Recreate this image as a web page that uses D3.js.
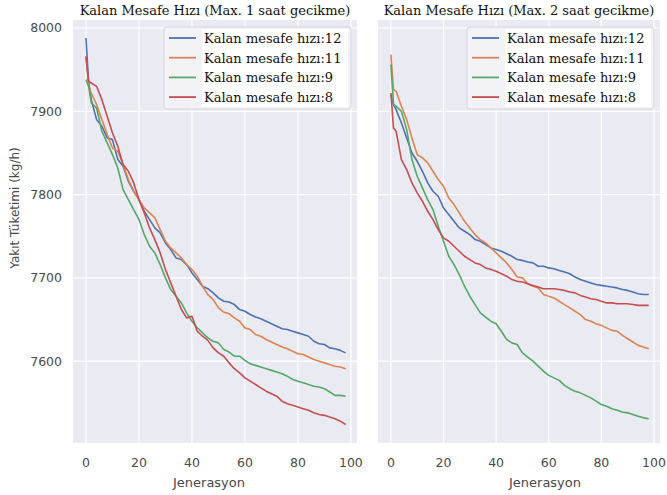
<!DOCTYPE html>
<html>
<head>
<meta charset="utf-8">
<script src="https://cdn.jsdelivr.net/npm/d3@7/dist/d3.min.js"></script>
<style>
  body { margin: 0; background: #fff; }
</style>
</head>
<body>
<div id="chart"></div>
<script>

// x values (generation) shared by every series
var generations = [0, 1, 2, 4, 6, 8, 10, 12, 14, 16, 18, 20, 22, 24, 26, 28, 30, 32, 34, 36, 38, 40,
  42, 44, 46, 48, 50, 52, 54, 56, 58, 60, 62, 64, 66, 68, 70, 72, 74, 76, 78, 80,
  82, 84, 86, 88, 90, 92, 94, 96, 98];

var seriesNames = ['Kalan mesafe hızı:12', 'Kalan mesafe hızı:11', 'Kalan mesafe hızı:9', 'Kalan mesafe hızı:8'];
var panelTitles = ['Kalan Mesafe Hızı (Max. 1 saat gecikme)', 'Kalan Mesafe Hızı (Max. 2 saat gecikme)'];
var xTicks = [0, 20, 40, 60, 80, 100];
var yTicks = [7600, 7700, 7800, 7900, 8000];

// panel 1 : max 1 hour delay
var speed12_1h = [7988, 7935, 7914, 7890, 7882, 7868, 7866, 7842, 7834, 7816, 7804, 7794,
  7780, 7770, 7760, 7754, 7742, 7734, 7724, 7722, 7716, 7706,
  7698, 7690, 7687, 7682, 7676, 7672, 7671, 7668, 7662, 7660,
  7656, 7653, 7651, 7648, 7645, 7642, 7639, 7638, 7636, 7634,
  7632, 7630, 7624, 7621, 7620, 7616, 7615, 7613, 7610];
var speed11_1h = [7966, 7930, 7922, 7908, 7890, 7872, 7856, 7852, 7836, 7818, 7804, 7794,
  7784, 7778, 7772, 7758, 7744, 7736, 7730, 7724, 7716, 7710,
  7702, 7690, 7680, 7674, 7664, 7659, 7657, 7652, 7648, 7640,
  7638, 7632, 7630, 7626, 7623, 7620, 7617, 7615, 7612, 7609,
  7608, 7605, 7602, 7600, 7598, 7596, 7594, 7593, 7591];
var speed9_1h = [7938, 7930, 7910, 7904, 7876, 7862, 7848, 7832, 7806, 7794, 7782, 7770,
  7752, 7738, 7730, 7716, 7700, 7686, 7678, 7670, 7658, 7648,
  7640, 7634, 7628, 7624, 7622, 7614, 7611, 7606, 7606, 7601,
  7597, 7595, 7593, 7591, 7589, 7587, 7585, 7582, 7578, 7576,
  7574, 7572, 7570, 7569, 7567, 7563, 7559, 7559, 7558];
var speed8_1h = [7966, 7936, 7934, 7930, 7914, 7894, 7874, 7858, 7836, 7828, 7814, 7794,
  7778, 7760, 7746, 7730, 7710, 7694, 7678, 7662, 7652, 7654,
  7636, 7630, 7625, 7616, 7610, 7606, 7598, 7591, 7586, 7580,
  7576, 7572, 7568, 7564, 7561, 7558, 7552, 7549, 7547, 7545,
  7543, 7541, 7538, 7536, 7535, 7533, 7531, 7528, 7524];

// panel 2 : max 2 hours delay
var speed12_2h = [7920, 7908, 7902, 7886, 7868, 7850, 7840, 7828, 7814, 7804, 7798, 7784,
  7776, 7768, 7760, 7756, 7752, 7746, 7744, 7740, 7736, 7734,
  7732, 7729, 7726, 7722, 7721, 7719, 7718, 7714, 7714, 7712,
  7711, 7709, 7707, 7705, 7701, 7698, 7696, 7694, 7692, 7691,
  7690, 7689, 7688, 7686, 7685, 7683, 7681, 7680, 7680];
var speed11_2h = [7968, 7926, 7924, 7906, 7890, 7868, 7848, 7844, 7838, 7828, 7818, 7810,
  7796, 7788, 7778, 7768, 7760, 7752, 7746, 7742, 7736, 7730,
  7724, 7718, 7710, 7701, 7700, 7693, 7690, 7688, 7680, 7678,
  7676, 7672, 7668, 7664, 7660, 7656, 7650, 7648, 7645, 7643,
  7640, 7637, 7636, 7631, 7627, 7623, 7619, 7617, 7615];
var speed9_2h = [7956, 7908, 7906, 7900, 7878, 7842, 7822, 7808, 7794, 7782, 7762, 7744,
  7726, 7716, 7704, 7690, 7678, 7668, 7658, 7653, 7648, 7645,
  7636, 7626, 7622, 7620, 7610, 7605, 7600, 7594, 7588, 7583,
  7580, 7577, 7571, 7567, 7564, 7562, 7559, 7556, 7552, 7548,
  7546, 7543, 7541, 7539, 7538, 7536, 7534, 7532, 7531];
var speed8_2h = [7922, 7880, 7876, 7842, 7830, 7814, 7802, 7792, 7780, 7770, 7758, 7748,
  7744, 7738, 7732, 7726, 7722, 7718, 7716, 7712, 7710, 7708,
  7705, 7702, 7698, 7696, 7695, 7693, 7691, 7689, 7687, 7687,
  7687, 7686, 7685, 7683, 7682, 7679, 7677, 7675, 7674, 7672,
  7670, 7670, 7669, 7669, 7669, 7668, 7667, 7667, 7667];

var colors = ['#4c72b0', '#dd8452', '#55a868', '#c44e52'];

var width = 667, height = 495;
var plotTop = 20, plotBottom = 443;

var panels = [
  { left: 73, right: 357, title: panelTitles[0], xLabelX: 209, showY: true,
    data: [speed12_1h, speed11_1h, speed9_1h, speed8_1h] },
  { left: 378, right: 660, title: panelTitles[1], xLabelX: 545, showY: false,
    data: [speed12_2h, speed11_2h, speed9_2h, speed8_2h] }
];

var svg = d3.select('#chart').append('svg')
  .attr('width', width)
  .attr('height', height)
  .style('font-family', 'DejaVu Sans, sans-serif');

var y = d3.scaleLinear()
  .domain([7501.8, 8009.6])
  .range([plotBottom, plotTop]);

panels.forEach(function(p) {
  var x = d3.scaleLinear()
    .domain([-4.9, 102.3])
    .range([p.left, p.right]);

  var g = svg.append('g');

  // background
  g.append('rect')
    .attr('x', p.left)
    .attr('y', plotTop)
    .attr('width', p.right - p.left)
    .attr('height', plotBottom - plotTop)
    .style('fill', '#eaeaf2');

  // grid
  g.selectAll('line.hgrid')
    .data(yTicks)
    .enter().append('line')
    .attr('class', 'hgrid')
    .attr('x1', p.left)
    .attr('x2', p.right)
    .attr('y1', function(d) { return y(d); })
    .attr('y2', function(d) { return y(d); })
    .style('stroke', '#fff')
    .style('stroke-width', 1.2);

  g.selectAll('line.vgrid')
    .data(xTicks)
    .enter().append('line')
    .attr('class', 'vgrid')
    .attr('x1', function(d) { return x(d); })
    .attr('x2', function(d) { return x(d); })
    .attr('y1', plotTop)
    .attr('y2', plotBottom)
    .style('stroke', '#fff')
    .style('stroke-width', 1.2);

  // x tick labels
  g.selectAll('text.xtick')
    .data(xTicks)
    .enter().append('text')
    .attr('class', 'xtick')
    .attr('x', function(d) { return x(d); })
    .attr('y', 467)
    .attr('text-anchor', 'middle')
    .text(function(d) { return d; })
    .style('font-size', '12.5px')
    .style('fill', '#4a4a4a');

  if (p.showY) {
    g.selectAll('text.ytick')
      .data(yTicks)
      .enter().append('text')
      .attr('class', 'ytick')
      .attr('x', 62)
      .attr('y', function(d) { return y(d) + 4.5; })
      .attr('text-anchor', 'end')
      .text(function(d) { return d; })
      .style('font-size', '12.5px')
      .style('fill', '#4a4a4a');
  }

  // lines
  var line = d3.line()
    .x(function(d, i) { return x(generations[i]); })
    .y(function(d) { return y(d); });

  g.selectAll('path.series')
    .data(p.data)
    .enter().append('path')
    .attr('class', 'series')
    .attr('d', line)
    .style('fill', 'none')
    .style('stroke', function(d, i) { return colors[i]; })
    .style('stroke-width', 1.6)
    .style('stroke-linejoin', 'round');

  // title
  g.append('text')
    .attr('x', (p.left + p.right) / 2)
    .attr('y', 15)
    .attr('text-anchor', 'middle')
    .text(p.title)
    .style('font-family', 'DejaVu Serif, serif')
    .style('font-size', '13px')
    .style('fill', '#111');

  // x axis label
  g.append('text')
    .attr('x', p.xLabelX)
    .attr('y', 487)
    .attr('text-anchor', 'middle')
    .text('Jenerasyon')
    .style('font-size', '13px')
    .style('fill', '#4a4a4a');

  // legend
  var lx = p.right - 193, ly = 27;
  var legend = g.append('g');
  legend.append('rect')
    .attr('x', lx)
    .attr('y', ly)
    .attr('width', 187)
    .attr('height', 82)
    .attr('rx', 3)
    .style('fill', '#f3f3f7')
    .style('stroke', '#d4d4dc')
    .style('stroke-width', 1);
  legend.append('rect')
    .attr('x', lx + 38)
    .attr('y', ly + 2)
    .attr('width', 146)
    .attr('height', 78)
    .style('fill', '#fff');

  var entries = legend.selectAll('g.entry')
    .data(seriesNames)
    .enter().append('g')
    .attr('class', 'entry')
    .attr('transform', function(d, i) { return 'translate(' + lx + ',' + (ly + 11 + i * 19.7) + ')'; });

  entries.append('line')
    .attr('x1', 5)
    .attr('x2', 32)
    .attr('y1', 0)
    .attr('y2', 0)
    .style('stroke', function(d, i) { return colors[i]; })
    .style('stroke-width', 1.8);

  entries.append('text')
    .attr('x', 40)
    .attr('y', 5)
    .text(function(d) { return d; })
    .style('font-family', 'DejaVu Serif, serif')
    .style('font-size', '13px')
    .style('fill', '#111');
});

// y axis label
svg.append('text')
  .attr('transform', 'translate(19,208) rotate(-90)')
  .attr('text-anchor', 'middle')
  .text('Yakıt Tüketimi (kg/h)')
  .style('font-size', '12px')
  .style('fill', '#4a4a4a');

</script>
</body>
</html>
